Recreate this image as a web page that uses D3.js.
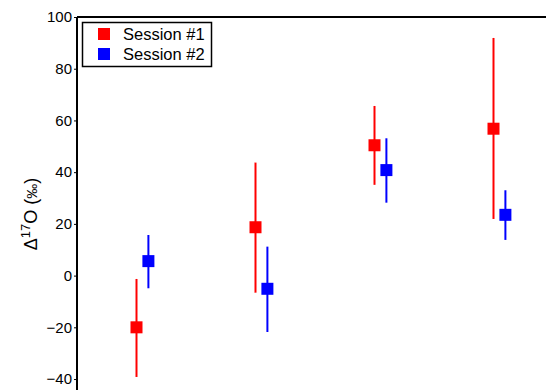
<!DOCTYPE html>
<html>
<head>
<meta charset="utf-8">
<script src="https://cdn.jsdelivr.net/npm/d3@7"></script>
<style>
  body { margin: 0; background: #fff; overflow: hidden; }
  svg { display: block; font-family: "Liberation Sans", Arial, sans-serif; }
</style>
</head>
<body>
<div id="chart"></div>
<script>
// data
var groups = [1, 2, 3, 4];
var sessions = ["Session #1", "Session #2"];
var colors = ["#ff0000", "#0000ff"];
var offsets = [-0.05, 0.05];

var s1Value = [-20.0, 18.7, 50.4, 56.8];
var s1Upper = [-1.3, 43.7, 65.6, 91.9];
var s1Lower = [-39.2, -6.6, 35.1, 21.9];

var s2Value = [5.6, -5.1, 40.8, 23.5];
var s2Upper = [15.7, 11.2, 53.1, 33.0];
var s2Lower = [-4.9, -21.8, 28.2, 13.8];

var yTicks = [-40, -20, 0, 20, 40, 60, 80, 100];

var width = 546, height = 390;
var plotLeft = 77, plotTop = 17;

var svg = d3.select("#chart").append("svg")
  .attr("width", width).attr("height", height);

// axes run past the window on the right and bottom, as in the picture
var x = d3.scaleLinear().domain([0.45, 4.5]).range([plotLeft, plotLeft + 119 * 4.05]);
var y = d3.scaleLinear().domain([-50, 100]).range([plotTop + 150 * 2.586, plotTop]);

/*
 * one series: error bars then square markers
 */
function drawSeries(k, vals, lo, hi) {
  var g = svg.append("g");
  groups.forEach(function(gx, i) {
    var cx = x(gx + offsets[k]);
    g.append("line")
      .attr("x1", cx).attr("x2", cx)
      .attr("y1", y(lo[i])).attr("y2", y(hi[i]))
      .style("stroke", colors[k]).style("stroke-width", 2);
    g.append("rect")
      .attr("x", cx - 6).attr("y", y(vals[i]) - 6)
      .attr("width", 12).attr("height", 12)
      .style("fill", colors[k]);
  });
}

drawSeries(0, s1Value, s1Lower, s1Upper);
drawSeries(1, s2Value, s2Lower, s2Upper);

// frame: left and top lines
svg.append("line")
  .attr("x1", plotLeft).attr("x2", plotLeft).attr("y1", plotTop).attr("y2", height + 20)
  .style("stroke", "#000").style("stroke-width", 2);
svg.append("line")
  .attr("x1", plotLeft).attr("x2", width + 20).attr("y1", plotTop).attr("y2", plotTop)
  .style("stroke", "#000").style("stroke-width", 2);

// y axis ticks and labels
var yAxis = svg.append("g").attr("transform", "translate(" + plotLeft + ",0)")
  .call(d3.axisLeft(y).tickValues(yTicks).tickSize(3).tickPadding(2));
yAxis.select(".domain").remove();
yAxis.selectAll("text").style("font-size", "15px").style("fill", "#000")
  .attr("font-family", null);
yAxis.selectAll("line").style("stroke", "#000");

// y label
var yl = svg.append("text")
  .attr("transform", "translate(37,214) rotate(-90)")
  .attr("text-anchor", "middle")
  .style("font-size", "18px");
yl.append("tspan").text("\u0394");
yl.append("tspan").attr("dy", -7).style("font-size", "13px").text("17");
yl.append("tspan").attr("dy", 7).text("O (");
yl.append("tspan").style("font-size", "15px").text("\u2030");
yl.append("tspan").text(")");

// legend
var lg = svg.append("g");
lg.append("rect")
  .attr("x", 82.5).attr("y", 22.5).attr("width", 129).attr("height", 44)
  .style("fill", "#fff").style("stroke", "#000").style("stroke-width", 1.5);
sessions.forEach(function(name, k) {
  var ry = 34 + k * 20;
  lg.append("rect")
    .attr("x", 98).attr("y", ry - 6).attr("width", 12).attr("height", 12)
    .style("fill", colors[k]);
  lg.append("text")
    .attr("x", 123).attr("y", ry + 6)
    .style("font-size", "16.5px")
    .text(name);
});
</script>
</body>
</html>
